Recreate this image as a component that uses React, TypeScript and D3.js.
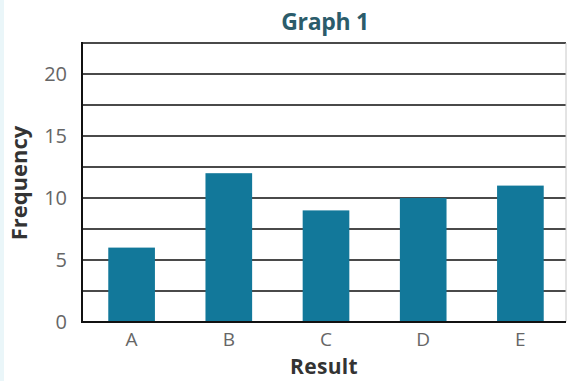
import React from "react";
import * as d3 from "d3";

const categories = ["A", "B", "C", "D", "E"];
const frequencies = [6, 12, 9, 10, 11];
const yTickValues = [0, 5, 10, 15, 20];
const gridValues = [2.5, 5, 7.5, 10, 12.5, 15, 17.5, 20, 22.5];
const title = "Graph 1";
const xTitle = "Result";
const yTitle = "Frequency";

const W = 568;
const H = 381;
const left = 82;
const right = 566;
const top = 43;
const bottom = 322;

export default function App() {
  const x = d3.scaleBand<string>().domain(categories).range([83, 569]).paddingInner(0.52).paddingOuter(0.26);
  const y = d3.scaleLinear().domain([0, 22.5]).range([bottom, top]);
  const font = "'Open Sans', 'DejaVu Sans', sans-serif";
  return (
    <svg
      width={W}
      height={H}
      style={{ position: "absolute", left: 0, top: 0, background: "#fff" }}
    >
      <rect x={0} y={0} width={4} height={H} fill="#eaf6f9" />
      {gridValues.map((v) => (
        <line key={v} x1={left} x2={right} y1={y(v)} y2={y(v)} stroke="#4a4a4a" strokeWidth={2} />
      ))}
      <line x1={right} x2={right} y1={y(22.5)} y2={bottom} stroke="#c8c8c8" strokeWidth={1} />
      {categories.map((c, i) => (
        <rect
          key={c}
          x={x(c)}
          y={y(frequencies[i])}
          width={x.bandwidth()}
          height={bottom - y(frequencies[i])}
          fill="#12789a"
        />
      ))}
      <line x1={left} x2={left} y1={top - 1} y2={bottom + 1} stroke="#111" strokeWidth={2} />
      <line x1={left - 1} x2={right} y1={bottom} y2={bottom} stroke="#111" strokeWidth={2.2} />
      {yTickValues.map((v) => (
        <text
          key={v}
          x={67}
          y={y(v) + 7}
          textAnchor="end"
          fontFamily={font}
          fontSize={20}
          fill="#666"
        >
          {v}
        </text>
      ))}
      {categories.map((c) => (
        <text
          key={c}
          x={(x(c) as number) + x.bandwidth() / 2}
          y={346}
          textAnchor="middle"
          fontFamily={font}
          fontSize={19}
          fill="#666"
        >
          {c}
        </text>
      ))}
      <text
        x={325}
        y={30}
        textAnchor="middle"
        fontFamily={font}
        fontSize={23}
        fontWeight={700}
        fill="#2b5c6b"
        letterSpacing={-0.3}
      >
        {title}
      </text>
      <text
        x={324}
        y={374}
        textAnchor="middle"
        fontFamily={font}
        fontSize={21}
        fontWeight={700}
        fill="#333"
        letterSpacing={0.3}
      >
        {xTitle}
      </text>
      <text
        transform={`translate(27,${183}) rotate(-90)`}
        textAnchor="middle"
        fontFamily={font}
        fontSize={22}
        fontWeight={700}
        fill="#333"
      >
        {yTitle}
      </text>
    </svg>
  );
}
